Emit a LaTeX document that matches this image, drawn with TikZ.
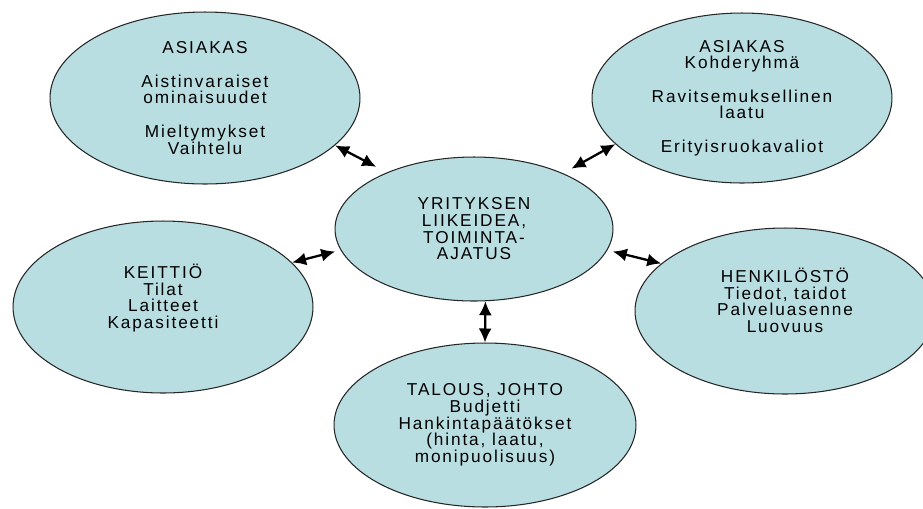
\documentclass[tikz,border=0pt]{standalone}
\usepackage{fontspec}
\setmainfont[LetterSpace=11]{Liberation Sans}
\usetikzlibrary{shapes.geometric,arrows.meta}

\definecolor{pallovari}{RGB}{184,222,226}

\tikzset{
  pallo/.style={ellipse, draw=black!85, line width=0.6pt, fill=pallovari,
    inner sep=0pt, align=center, font=\fontsize{9.8}{9.5}\selectfont},
  nuoli/.style={{Latex[length=0.28cm,width=0.26cm]}-{Latex[length=0.28cm,width=0.26cm]},
    line width=1.3pt}
}

\begin{document}
\begin{tikzpicture}[x=0.02cm, y=-0.02cm]
    \useasboundingbox (0,0) rectangle (923,508);

    % --- Keskus ---
    \node[pallo, minimum width=5.56cm, minimum height=2.88cm] (c) at (474,229)
        {YRITYKSEN\\LIIKEIDEA,\\TOIMINTA-\\AJATUS};

    % --- Ympärillä olevat pallot ---
    \node[pallo, minimum width=6.2cm, minimum height=3.44cm] (tl) at (205,98)
        {ASIAKAS\\[9.5pt]Aistinvaraiset\\ominaisuudet\\[9.5pt]Mieltymykset\\Vaihtelu};
    \node[pallo, minimum width=6.0cm, minimum height=3.4cm] (tr) at (742,98)
        {ASIAKAS\\Kohderyhmä\\[9.5pt]Ravitsemuksellinen\\laatu\\[9.5pt]Erityisruokavaliot};
    \node[pallo, minimum width=6.0cm, minimum height=3.44cm] (l) at (163,307)
        {KEITTIÖ\\Tilat\\Laitteet\\Kapasiteetti\\ \strut};
    \node[pallo, minimum width=6.0cm, minimum height=3.32cm] (r) at (785,311)
        {HENKILÖSTÖ\\Tiedot, taidot\\Palveluasenne\\Luovuus\\ \strut};
    \node[pallo, minimum width=6.04cm, minimum height=3.28cm] (b) at (485,425)
        {TALOUS, JOHTO\\Budjetti\\Hankintapäätökset\\(hinta, laatu,\\monipuolisuus)};

    % --- Nuolet ---
    \draw[nuoli, shorten >=0.24cm] (tl.-20) -- (c.147);
    \draw[nuoli, shorten >=0.19cm] (tr.200) -- (c.32);
    \draw[nuoli, shorten >=0.11cm] (l.19) -- (c.189);
    \draw[nuoli, shorten <=0.11cm] (c.-9) -- (r.159);
    \draw[nuoli] (c.-81) -- (b.north);
\end{tikzpicture}
\end{document}
